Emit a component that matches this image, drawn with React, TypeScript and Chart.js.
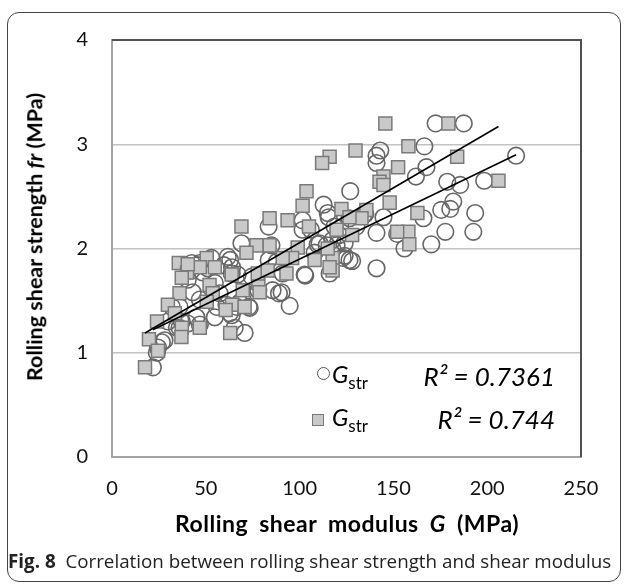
import React, { useEffect, useRef } from "react";
import { Chart, registerables } from "chart.js";

Chart.register(...registerables);

// Circle series (G, fr)
const circleModulus = [
  172.5, 187.5, 166.5, 215.4, 167.6, 162, 178.7, 185.6, 198.4, 181.9, 175.5, 180.3, 193.6, 166, 177.7, 192.6, 170.2, 155.9,
  143, 141, 141, 127, 135, 144.7, 130.3, 141, 152, 119.7, 124, 128, 141,
  112.8, 115, 126.6, 134, 83.5, 101.6, 106, 118.6, 121, 69, 85, 109.6, 114.4, 117.6, 108, 83.5, 123, 63, 116, 103, 74.5,
  78, 85.6, 89, 94.7, 69.7, 73.4, 65.4, 70.7,
  115.5, 101.6, 110.6, 117.5, 124, 42.5, 53, 61.7, 46.8, 42.5, 48.4, 64, 67, 91, 102.7, 126.6,
  45.7, 51, 59.6, 63.8, 87.8, 90.4, 40.4, 54.8, 43, 57.4, 46.8, 31.9, 36, 55.9, 61, 68, 63.8, 29.8, 37.2, 34.6, 46.8,
  26.6, 24.5, 23.9, 21.8, 72.9, 66.5, 62.8, 54.8, 45, 40.4, 28, 36,
];
const circleStrength = [
  3.2, 3.2, 2.98, 2.89, 2.78, 2.69, 2.64, 2.61, 2.65, 2.45, 2.37, 2.38, 2.34, 2.29, 2.16, 2.16, 2.04, 2.0,
  2.94, 2.89, 2.82, 2.55, 2.33, 2.3, 2.21, 2.15, 2.14, 2.03, 1.93, 1.88, 1.81,
  2.42, 2.34, 2.29, 2.32, 2.21, 2.27, 2.18, 2.21, 2.13, 2.05, 2.03, 2.04, 2.03, 1.99, 1.96, 1.89, 1.91, 1.89, 1.76, 1.74, 1.73,
  1.6, 1.6, 1.57, 1.45, 1.51, 1.43, 1.24, 1.19,
  2.3, 2.18, 2.05, 2.08, 2.05, 1.86, 1.91, 1.92, 1.86, 1.79, 1.77, 1.82, 1.75, 1.76, 1.75, 1.89,
  1.84, 1.81, 1.84, 1.76, 1.87, 1.58, 1.7, 1.67, 1.58, 1.57, 1.51, 1.44, 1.44, 1.44, 1.46, 1.48, 1.36, 1.3, 1.3, 1.24, 1.27,
  1.1, 1.05, 1.0, 0.86, 1.44, 1.44, 1.38, 1.34, 1.34, 1.28, 1.12, 1.24,
];

// Square series (G, fr)
const squareModulus = [
  145.7, 179.3, 158, 184, 152.5, 206, 162.8, 158, 158.5, 152,
  116, 112, 129.8, 144.7, 142.6, 144.7, 148, 122.3, 135.6, 133, 126.6, 119.7, 128, 117.6, 117.6,
  103.7, 101.6, 84, 69, 93.6, 105, 84, 77, 71.7, 99, 115, 108, 96, 91, 116, 93, 78, 69.7, 64, 63,
  35.6, 50.5, 46.8, 40, 40.4, 54.8, 63.8, 77.7, 83, 78.7, 37.2, 52, 36, 53.7, 50.5, 29.8, 60.6, 70.7,
  24, 37.2, 46.8, 19.7, 24.5, 17.6, 33.5, 37,
];
const squareStrength = [
  3.2, 3.2, 2.98, 2.88, 2.78, 2.65, 2.34, 2.16, 2.04, 2.16,
  2.88, 2.82, 2.94, 2.69, 2.64, 2.61, 2.44, 2.38, 2.37, 2.29, 2.3, 2.18, 2.13, 1.91, 1.79,
  2.55, 2.41, 2.29, 2.21, 2.27, 2.21, 2.03, 2.03, 1.96, 2.01, 2.0, 1.89, 1.91, 1.91, 1.82, 1.76, 1.67, 1.6, 1.46, 1.19,
  1.86, 1.91, 1.82, 1.77, 1.85, 1.82, 1.75, 1.76, 1.79, 1.58, 1.72, 1.65, 1.57, 1.57, 1.49, 1.46, 1.41, 1.44,
  1.3, 1.24, 1.24, 1.13, 1.02, 0.86, 1.38, 1.15,
];

// Trend line end points
const squareTrendModulus = [17.6, 206];
const squareTrendStrength = [1.19, 3.17];
const circleTrendModulus = [21.8, 215.4];
const circleTrendStrength = [1.22, 2.9];

const xTicks = [0, 50, 100, 150, 200, 250];
const yTicks = [0, 1, 2, 3, 4];
const gridValues = [1, 2, 3];

const circleR2 = "R² = 0.7361";
const squareR2 = "R² = 0.744";
const seriesName = "G";
const seriesSub = "str";

const pairs = (xs: number[], ys: number[]) => xs.map((x, i) => ({ x, y: ys[i] }));

const FONT = "Lato, 'Liberation Sans', sans-serif";

export default function App() {
  const ref = useRef<HTMLCanvasElement | null>(null);

  useEffect(() => {
    if (!ref.current) return;
    const framePlugin = {
      id: "frame",
      beforeDatasetsDraw(chart: any) {
        const { ctx, chartArea: a } = chart;
        ctx.save();
        ctx.strokeStyle = "#505050";
        ctx.lineWidth = 2;
        ctx.beginPath();
        ctx.moveTo(a.left, a.top);
        ctx.lineTo(a.right, a.top);
        ctx.lineTo(a.right, a.bottom);
        ctx.stroke();
        ctx.restore();
      },
    };
    const chart = new Chart(ref.current, {
      type: "scatter",
      data: {
        datasets: [
          {
            label: "trend squares",
            data: pairs(squareTrendModulus, squareTrendStrength),
            showLine: true,
            borderColor: "#000",
            borderWidth: 1.6,
            pointRadius: 0,
            order: -2,
          },
          {
            label: "trend circles",
            data: pairs(circleTrendModulus, circleTrendStrength),
            showLine: true,
            borderColor: "#000",
            borderWidth: 1.6,
            pointRadius: 0,
            order: -1,
          },
          {
            label: "squares",
            data: pairs(squareModulus, squareStrength),
            pointStyle: "rect",
            pointRadius: 9.2,
            backgroundColor: "#c9c9c9",
            borderColor: "#7a7a7a",
            borderWidth: 1.5,
            order: 0,
          },
          {
            label: "circles",
            data: pairs(circleModulus, circleStrength),
            pointStyle: "circle",
            pointRadius: 8.3,
            backgroundColor: "rgba(0,0,0,0)",
            borderColor: "#666",
            borderWidth: 1.6,
            order: 1,
          },
        ],
      },
      options: {
        animation: false,
        responsive: false,
        devicePixelRatio: 1,
        layout: { padding: { left: 0, top: 40, right: 44, bottom: 0 } },
        plugins: { legend: { display: false }, tooltip: { enabled: false } },
        scales: {
          x: {
            type: "linear",
            min: xTicks[0],
            max: xTicks[xTicks.length - 1],
            afterFit: (s: any) => { s.height = 127; },
            afterBuildTicks: (s: any) => { s.ticks = xTicks.map((v) => ({ value: v })); },
            grid: { display: false, drawTicks: false },
            border: { display: true, color: "#a3a3a3", width: 2 },
            ticks: { font: { family: FONT, size: 20 }, color: "#111", padding: 20 },
          },
          y: {
            type: "linear",
            min: yTicks[0],
            max: yTicks[yTicks.length - 1],
            afterFit: (s: any) => { s.width = 112; },
            afterBuildTicks: (s: any) => { s.ticks = yTicks.map((v) => ({ value: v })); },
            grid: {
              drawTicks: false,
              color: (c: any) => (gridValues.includes(c.tick?.value) ? "#c2c2c2" : "rgba(0,0,0,0)"),
              lineWidth: 1.5,
            },
            border: { display: true, color: "#a3a3a3", width: 2 },
            ticks: { font: { family: FONT, size: 20 }, color: "#111", padding: 24 },
          },
        },
      },
      plugins: [framePlugin],
    });
    return () => chart.destroy();
  }, []);

  const abs: React.CSSProperties = { position: "absolute", whiteSpace: "nowrap", lineHeight: 1 };

  return (
    <div style={{ position: "absolute", left: 0, top: 0, width: 625, height: 584, overflow: "hidden", background: "#fff" }}>
      <div style={{ position: "absolute", left: 7, top: 12, width: 614, height: 570, border: "1px solid #444", borderRadius: 12, boxSizing: "border-box" }} />
      <canvas ref={ref} width={625} height={584} style={{ position: "absolute", left: 0, top: 0 }} />
      {/* Y axis title */}
      <div
        style={{
          ...abs,
          left: 35,
          top: 237,
          transform: "translate(-50%, -50%) rotate(-90deg)",
          fontFamily: FONT,
          fontWeight: 700,
          fontSize: 21.5,
          color: "#000",
        }}
      >
        Rolling shear strength <i>fr</i> (MPa)
      </div>
      {/* X axis title */}
      <div
        style={{
          ...abs,
          left: 347,
          top: 523,
          transform: "translate(-50%, -50%)",
          fontFamily: FONT,
          fontWeight: 700,
          fontSize: 23,
          letterSpacing: 0.5,
          wordSpacing: 5,
          color: "#000",
        }}
      >
        Rolling shear modulus <i>G</i> (MPa)
      </div>
      {/* Legend */}
      <div style={{ position: "absolute", left: 317, top: 367, width: 13, height: 13, borderRadius: "50%", border: "1px solid #555", boxSizing: "border-box" }} />
      <div style={{ ...abs, left: 332, top: 376, transform: "translateY(-50%)", fontFamily: FONT, fontSize: 24, color: "#000" }}>
        <i>{seriesName}</i><sub style={{ fontSize: 17, verticalAlign: "-6px" }}>{seriesSub}</sub>
      </div>
      <div style={{ ...abs, right: 625 - 555, top: 376, transform: "translateY(-50%)", fontFamily: FONT, fontStyle: "italic", fontSize: 26, color: "#000" }}>
        {circleR2}
      </div>
      <div style={{ position: "absolute", left: 312, top: 414, width: 12, height: 12, background: "#c9c9c9", border: "1px solid #777", boxSizing: "border-box" }} />
      <div style={{ ...abs, left: 332, top: 419, transform: "translateY(-50%)", fontFamily: FONT, fontSize: 24, color: "#000" }}>
        <i>{seriesName}</i><sub style={{ fontSize: 17, verticalAlign: "-6px" }}>{seriesSub}</sub>
      </div>
      <div style={{ ...abs, right: 625 - 555, top: 419, transform: "translateY(-50%)", fontFamily: FONT, fontStyle: "italic", fontSize: 26, color: "#000" }}>
        {squareR2}
      </div>
      {/* Caption */}
      <div style={{ ...abs, left: 8, top: 561, transform: "translateY(-50%)", fontFamily: "'Open Sans', 'Noto Sans', sans-serif", fontSize: 18.8, color: "#222" }}>
        <b>Fig. 8</b>&nbsp; Correlation between rolling shear strength and shear modulus
      </div>
    </div>
  );
}
